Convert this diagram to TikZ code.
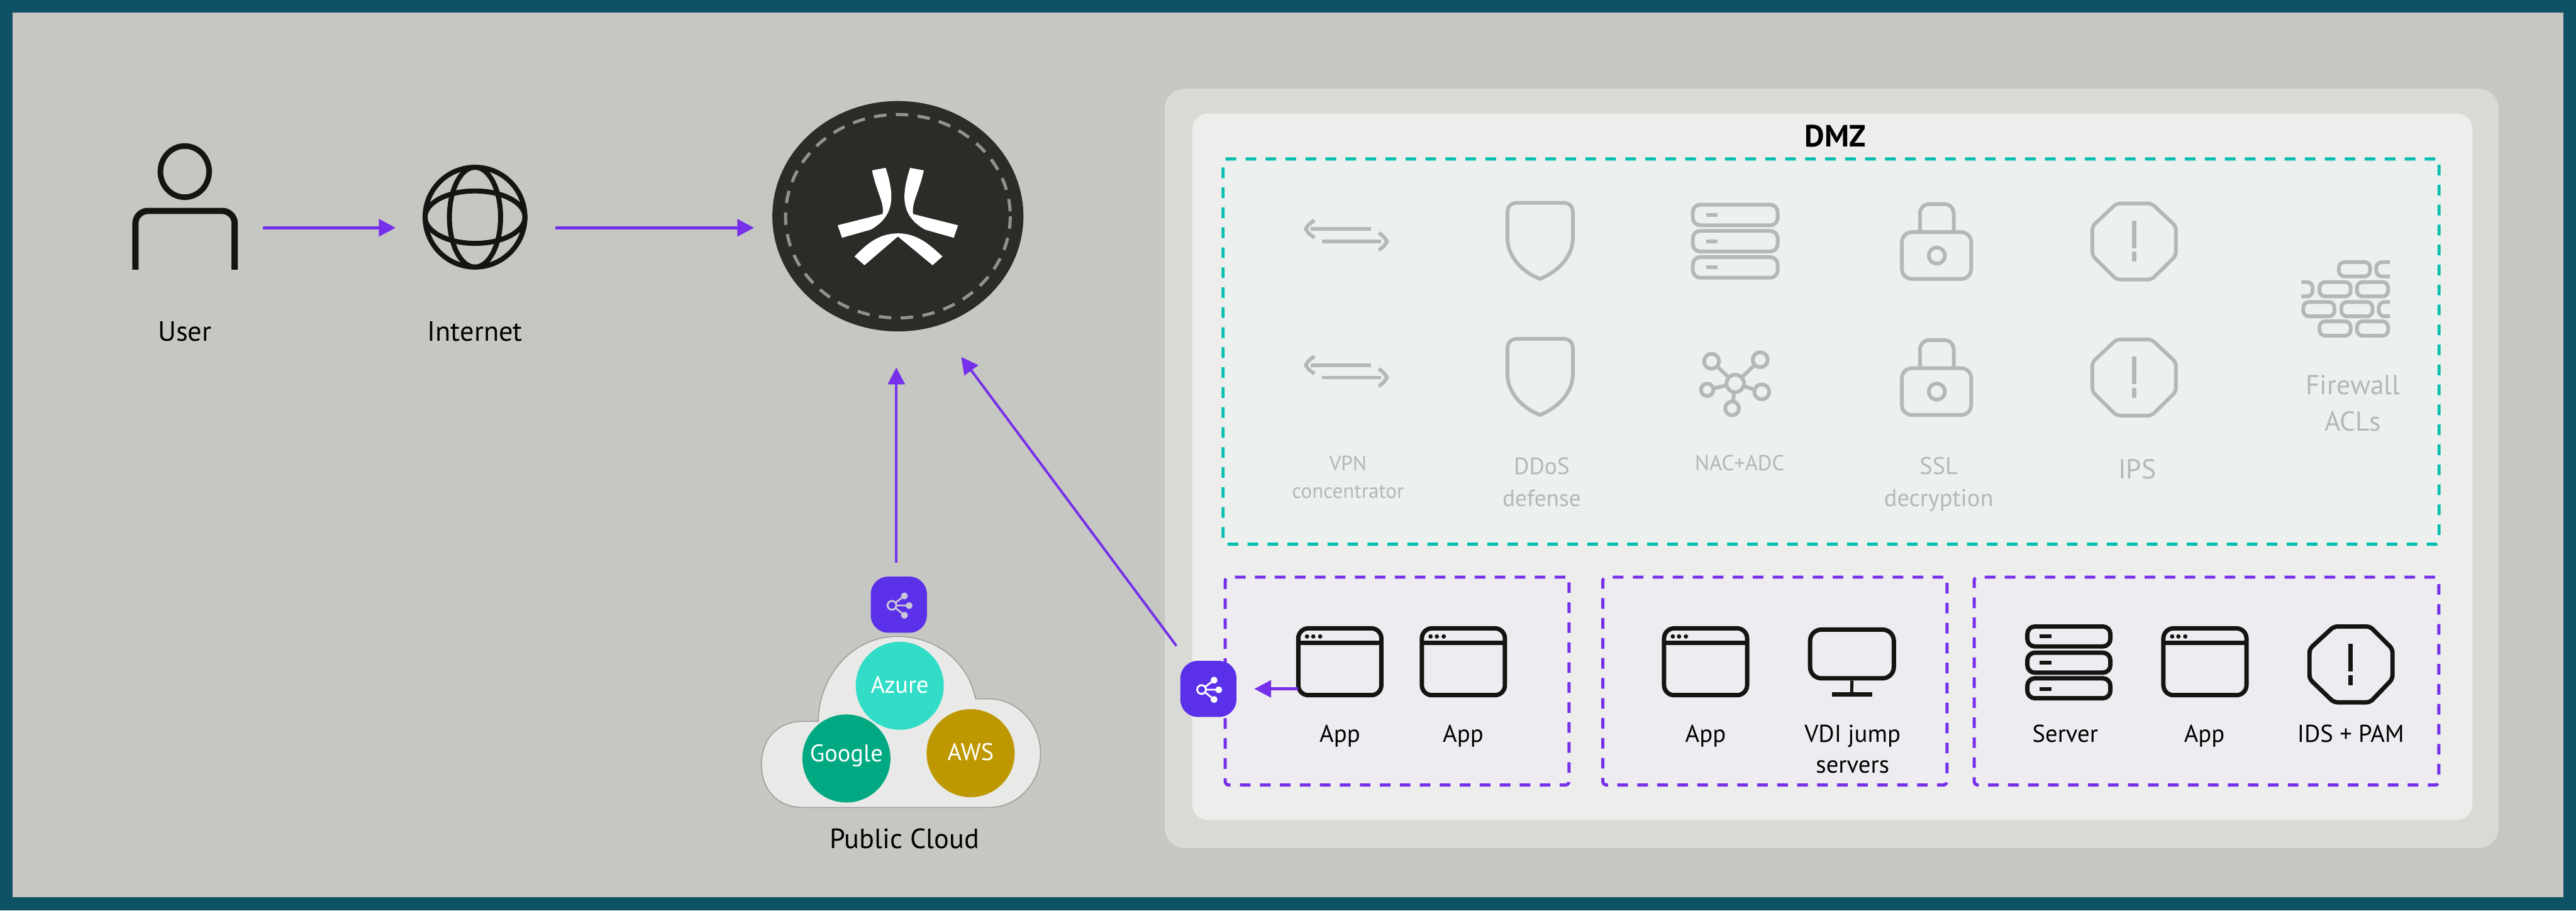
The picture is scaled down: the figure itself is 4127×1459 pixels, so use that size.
\documentclass[tikz,border=0pt]{standalone}
\usepackage{fontspec}
\setmainfont{PT Sans}
\usetikzlibrary{shapes.geometric}
\usetikzlibrary{arrows.meta}
\definecolor{frameTeal}{HTML}{0F5265}
\definecolor{pageGray}{HTML}{C6C7C2}
\definecolor{dmzOuterGray}{HTML}{D9DAD5}
\definecolor{dmzInnerGray}{HTML}{EDEDEB}
\definecolor{gatewayDark}{HTML}{2A2C27}
\definecolor{gatewayDash}{HTML}{90928D}
\definecolor{flowPurple}{HTML}{7630EA}
\definecolor{lbPurple}{HTML}{5A30E8}
\definecolor{lbGlyph}{HTML}{C9C8D8}
\definecolor{zoneTeal}{HTML}{00BFB0}
\definecolor{zoneTealFill}{HTML}{ECF0EE}
\definecolor{zonePurpleFill}{HTML}{EEECF0}
\definecolor{iconBlack}{HTML}{141412}
\definecolor{mutedGray}{HTML}{B6B8B6}
\definecolor{cloudFill}{HTML}{E9E9E7}
\definecolor{cloudLine}{HTML}{9B9C98}
\definecolor{azureTeal}{HTML}{32DDC8}
\definecolor{googleGreen}{HTML}{01A982}
\definecolor{awsGold}{HTML}{BD9800}

\begin{document}
\begin{tikzpicture}
[x=0.01cm,y=-0.01cm,%
  flowArrow/.style={draw=flowPurple,line width=0.05cm,-{Triangle[length=0.27cm,width=0.27cm]}},%
  thinFlow/.style={flowArrow,line width=0.04cm},%
  darkIcon/.style={draw=iconBlack,line width=0.07cm},%
  mutedIcon/.style={draw=mutedGray,line width=0.06cm},%
  hitBox/.style={inner sep=0pt,outer sep=0pt,minimum height=1.36cm},%
  appWindow/.style={darkIcon,rounded corners=0.16cm,inner sep=0pt,outer sep=0pt,minimum width=1.33cm,minimum height=1.07cm},%
  serverRow/.style={rounded corners=0.12cm},%
  lbNode/.style={fill=lbPurple,rounded corners=0.28cm,inner sep=0pt,minimum width=0.9cm,minimum height=0.9cm},%
  zoneBox/.style={fill=#1,rounded corners=0.06cm,line width=0.05cm,dash pattern=on 0.17cm off 0.15cm,inner sep=0pt},%
  cloudDisc/.style={circle,inner sep=0pt,minimum size=1.41cm,fill=#1},%
  bigText/.style={anchor=base,text=black,font=\fontsize{12.7}{15}\selectfont},%
  appText/.style={anchor=base,text=black,font=\fontsize{11.1}{13}\selectfont},%
  discText/.style={anchor=base,text=white,font=\fontsize{11}{12}\selectfont},%
  mutedText/.style={anchor=base,text=mutedGray,font=\fontsize{#1}{12}\selectfont}]
\useasboundingbox (0,0) rectangle (4127,1459);
%% page and panels
\fill[frameTeal] (0,0) rectangle (4127,1459);
\fill[pageGray] (20,20) rectangle (4107,1438);
\fill[dmzOuterGray,rounded corners=0.32cm] (1866,142) rectangle (4003,1359);
\fill[dmzInnerGray,rounded corners=0.25cm] (1910,182) rectangle (3961,1314);
\node[font=\fontsize{14}{16}\selectfont\bfseries] (dmzLabel) at (2940,218) {DMZ};
%% dashed zones
\node[zoneBox=zoneTealFill,draw=zoneTeal,minimum width=19.47cm,minimum height=6.17cm] (secZone) at (2933.5,563.5) {};
\foreach \zonename/\x/\w in {
  appZoneA/2238.3/5.506, appZoneB/2843.5/5.51, appZoneC/3535/7.44}
{
  \node[zoneBox=zonePurpleFill,draw=flowPurple,minimum width=\w cm,minimum height=3.33cm] (\zonename) at (\x,1091.5) {};
}
%% user
\draw[darkIcon,line width=0.09cm] (296,275) ellipse [x radius=39,y radius=41];
\draw[darkIcon,line width=0.1cm,rounded corners=0.2cm] (217,432) -- (217,338) -- (376,338) -- (376,432);
\node[hitBox,minimum width=1.69cm] (user) at (296.5,365) {};
\node[bigText] (userLabel) at (296,547) {User};
%% internet
\draw[darkIcon,line width=0.08cm] (761,348) circle (80);
\draw[darkIcon,line width=0.08cm] (761,348) ellipse [x radius=80,y radius=42];
\draw[darkIcon,line width=0.08cm] (761,348) ellipse [x radius=41,y radius=80];
\node[hitBox,minimum width=1.68cm] (internet) at (761,365) {};
\node[bigText] (internetLabel) at (761,547) {Internet};
%% gateway and its mark
\node[ellipse,fill=gatewayDark,inner sep=0pt,minimum width=4.02cm,minimum height=3.69cm] (gateway) at (1438.5,346.5) {};
\draw[gatewayDash,line width=0.05cm,dash pattern=on 0.2cm off 0.15cm] (gateway.center) ellipse [x radius=180,y radius=163];
\fill[white] (1397,273) -- (1419,269) .. controls (1432,310) and (1436,345) .. (1395,368) -- (1349,381) -- (1342,361) -- (1414,343) .. controls (1417,325) and (1405,310) .. (1397,273) -- cycle;
\fill[white] (1480,273) -- (1458,269) .. controls (1445,310) and (1441,345) .. (1482,368) -- (1528,381) -- (1535,361) -- (1463,343) .. controls (1460,325) and (1472,310) .. (1480,273) -- cycle;
\fill[white] (1369,411) .. controls (1385,395) and (1405,374) .. (1438.5,374) .. controls (1472,374) and (1492,395) .. (1510,411) -- (1494,425) -- (1438.5,379) -- (1385,425) -- cycle;
%% public cloud
\draw[fill=cloudFill,draw=cloudLine,line width=0.015cm] (1287,1294) .. controls (1245,1294) and (1220,1265) .. (1220,1225) .. controls (1220,1185) and (1245,1156) .. (1287,1156) -- (1311,1156) .. controls (1311,1085) and (1365,1020) .. (1437,1020) .. controls (1505,1020) and (1552,1065) .. (1563,1120) -- (1584,1120) .. controls (1630,1120) and (1667,1160) .. (1667,1207) .. controls (1667,1255) and (1630,1294) .. (1584,1294) -- cycle;
\foreach \discname/\x/\y/\discfill/\basey/\disctext in {
  azure/1441.5/1099/azureTeal/1111/Azure, google/1356/1215.5/googleGreen/1221/Google, aws/1555/1207/awsGold/1219/AWS}
{
  \node[cloudDisc=\discfill] (\discname) at (\x,\y) {};
  \node[discText] (\discname Label) at (\x,\basey) {\disctext};
}
\node[bigText] (cloudLabel) at (1449,1360) {Public Cloud};
%% load balancers
\node[lbNode] (lbCloud) at (1440,969) {};
\node[lbNode] (lbDmz) at (1936,1104) {};
\foreach \lbname/\glyphcolor in {lbCloud/lbGlyph, lbDmz/white}
{
  \draw[\glyphcolor,line width=0.028cm] ([shift={(-11,1)}]\lbname.center) -- ([shift={(9,-14)}]\lbname.center);
  \draw[\glyphcolor,line width=0.028cm] ([shift={(-11,1)}]\lbname.center) -- ([shift={(16.5,1.5)}]\lbname.center);
  \draw[\glyphcolor,line width=0.028cm] ([shift={(-11,1)}]\lbname.center) -- ([shift={(9,17)}]\lbname.center);
  \draw[\glyphcolor,fill=lbPurple,line width=0.03cm] ([shift={(-11,1)}]\lbname.center) circle (7);
  \fill[\glyphcolor] ([shift={(9,-14)}]\lbname.center) circle (5.5);
  \fill[\glyphcolor] ([shift={(16.5,1.5)}]\lbname.center) circle (5.5);
  \fill[\glyphcolor] ([shift={(9,17)}]\lbname.center) circle (5.5);
}
%% muted security icons, two rows
\foreach \rowshift/\rowname in {0/A, 218/B}
{
  \begin{scope}[shift={(0,\rowshift)}]
    % vpn arrows
    \draw[mutedIcon] (2100,367) -- (2196,367);
    \draw[mutedIcon] (2118,387) -- (2213,387);
    \draw[mutedIcon] (2106,353) .. controls (2096,360) .. (2092,367) .. controls (2096,374) .. (2106,381);
    \draw[mutedIcon] (2209,373) .. controls (2218,380) .. (2222,387) .. controls (2218,394) .. (2209,401);
    % shield
    \draw[mutedIcon] (2415,342) .. controls (2415,331) and (2420,325) .. (2431,325) -- (2504,325) .. controls (2515,325) and (2520,331) .. (2520,342) -- (2520,381) .. controls (2520,410) and (2497,435) .. (2467,447) .. controls (2437,435) and (2415,410) .. (2415,381) -- cycle;
    % lock
    \draw[mutedIcon,rounded corners=0.16cm] (3047,372) rectangle (3158,447);
    \draw[mutedIcon,rounded corners=0.15cm] (3076,372) -- (3076,327) -- (3130,327) -- (3130,372);
    \draw[mutedIcon] (3103,409.6) circle (13);
    % octagon with mark
    \draw[mutedIcon,rounded corners=0.06cm] (3391,326) -- (3447,326) -- (3486,362.6) -- (3486,409.6) -- (3447,448) -- (3391,448) -- (3352,409.6) -- (3352,362.6) -- cycle;
    \draw[mutedGray,line width=0.065cm] (3419,353.7) -- (3419,397.8);
    \draw[mutedGray,line width=0.065cm] (3419,403.5) -- (3419,419.4);
  \end{scope}
}
%% muted server stack
\foreach \rowtop/\markmid in {328/345, 370/387, 412/428}
{
  \draw[mutedIcon,serverRow] (2712,\rowtop) rectangle (2848,\rowtop+33);
  \fill[mutedGray] (2733,\markmid-3) rectangle (2752,\markmid+3);
}
%% muted network mark
\foreach \x/\y/\r in {2742/579/12, 2820/576.5/12, 2735/624.7/10, 2822.5/628/12, 2775/654.5/11}
{
  \draw[mutedIcon] (2780,614.5) -- (\x,\y);
  \draw[mutedIcon,fill=zoneTealFill] (\x,\y) circle (\r);
}
\draw[mutedIcon,fill=zoneTealFill] (2780,614.5) circle (14);
%% muted firewall
\foreach \left/\top/\right in {
  3747/420/3797, 3716/452/3766, 3776/452/3826, 3690/484/3740, 3751/484/3801, 3716/515/3766, 3776/515/3826}
{
  \draw[mutedIcon,rounded corners=0.09cm] (\left,\top) rectangle (\right,\top+23);
}
\draw[mutedIcon,rounded corners=0.09cm] (3829,420) -- (3807,420) -- (3807,443) -- (3829,443);
\draw[mutedIcon,rounded corners=0.09cm] (3687,452) -- (3705,452) -- (3705,475) -- (3687,475);
\draw[mutedIcon,rounded corners=0.09cm] (3829,484) -- (3811,484) -- (3811,507) -- (3829,507);
%% muted labels
\foreach \labelname/\x/\y/\labelsize/\labeltext in {
  vpnLabel/2159.6/754.5/9.5/VPN, vpnLabelB/2159.6/798.6/9.5/concentrator,
  ddosLabel/2470/760/10.7/DDoS, ddosLabelB/2470/811.6/10.7/defense,
  nacLabel/2787/754.5/9.9/NAC+ADC,
  sslLabel/3106/760/11/SSL, sslLabelB/3106/811.6/11/decryption,
  ipsLabel/3424/767/12.5/IPS,
  firewallLabel/3769.5/632/12.5/Firewall, firewallLabelB/3769.5/690.4/12.5/ACLs}
{
  \node[mutedText=\labelsize] (\labelname) at (\x,\y) {\labeltext};
}
%% app windows
\foreach \appname/\x/\labelx in {
  appA/2146.5/2146.6, appB/2344.5/2344, appC/2732.5/2732.5, appD/3532.5/3531.6}
{
  \node[appWindow] (\appname) at (\x,1060.5) {};
  \draw[darkIcon] ([yshift=-0.23cm]\appname.north west) -- ([yshift=-0.23cm]\appname.north east);
  \foreach \dotx in {14,24,35}
    \fill[iconBlack] ([shift={(\dotx,13)}]\appname.north west) circle (3.5);
  \node[appText] (\appname Label) at (\labelx,1189) {App};
}
%% vdi monitor
\node[darkIcon,rounded corners=0.18cm,inner sep=0pt,minimum width=1.34cm,minimum height=0.78cm] (monitor) at (2967,1048) {};
\coordinate (monitorFoot) at (2966.5,1112.5);
\draw[iconBlack,line width=0.05cm] (monitor.south) -- (monitorFoot);
\draw[iconBlack,line width=0.07cm] (2935,1112.5) -- (2999.5,1112.5);
\node[appText] (vdiLabel) at (2968,1189) {VDI jump};
\node[appText] (vdiLabelB) at (2968,1239) {servers};
%% server stack
\foreach \rowtop/\markmid in {1004/1020, 1046/1062, 1087/1104}
{
  \draw[darkIcon,serverRow] (3248,\rowtop) rectangle (3381,\rowtop+32);
  \fill[iconBlack] (3268,\markmid-3) rectangle (3287,\markmid+3);
}
\node[appText] (serverLabel) at (3308.6,1189) {Server};
%% ids octagon
\draw[darkIcon,rounded corners=0.06cm] (3739,1004) -- (3797,1004) -- (3833,1040) -- (3833,1088) -- (3797,1125.5) -- (3739,1125.5) -- (3700,1088) -- (3700,1040) -- cycle;
\draw[iconBlack,line width=0.07cm] (3766,1032) -- (3766,1076);
\draw[iconBlack,line width=0.07cm] (3766,1082) -- (3766,1098);
\node[appText] (idsLabel) at (3766,1189) {IDS + PAM};
%% connectors
\coordinate (gatewayTip) at (1540,572);
\draw[flowArrow,shorten <=0.40cm,shorten >=0.43cm] (user.east) -- (internet.west);
\draw[flowArrow,shorten <=0.45cm,shorten >=0.285cm] (internet.east) -- (internet.east -| gateway.west);
\draw[thinFlow,shorten <=0.22cm,shorten >=0.57cm] ([xshift=-0.04cm]lbCloud.north) -- ([xshift=-0.04cm]lbCloud.north |- gateway.south);
\draw[thinFlow,shorten <=0.29cm] (lbDmz) -- (gatewayTip);
\draw[flowArrow,shorten >=0.277cm] (lbDmz.east -| appA.west) -- (lbDmz.east);
\end{tikzpicture}
\end{document}
